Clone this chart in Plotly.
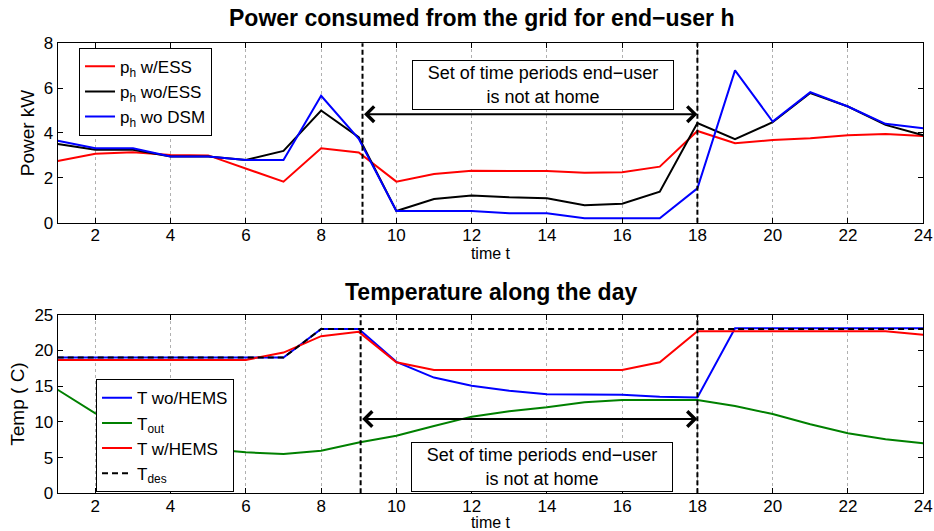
import plotly.graph_objects as go

# Time periods (hours of the day)
t = list(range(1, 25))

# Power drawn from the grid [kW]
p_w_ess = [2.75, 3.07, 3.14, 3.02, 3.0, 2.43, 1.83, 3.32, 3.13, 1.83, 2.17, 2.32,
           2.32, 2.30, 2.23, 2.25, 2.50, 4.09, 3.54, 3.69, 3.77, 3.90, 3.95, 3.87]
p_wo_ess = [3.51, 3.25, 3.25, 2.95, 2.95, 2.80, 3.20, 5.00, 3.81, 0.52, 1.06, 1.21,
            1.13, 1.09, 0.78, 0.85, 1.38, 4.44, 3.72, 4.48, 5.78, 5.18, 4.36, 3.90]
p_wo_dsm = [3.65, 3.32, 3.32, 2.95, 2.95, 2.80, 2.80, 5.66, 3.74, 0.52, 0.52, 0.52,
            0.42, 0.42, 0.20, 0.20, 0.20, 1.53, 6.79, 4.51, 5.82, 5.18, 4.41, 4.21]

# Indoor / outdoor temperatures [C]
T_wo_hems = [19.0, 19.0, 19.0, 19.0, 19.0, 19.0, 19.0, 23.0, 23.0, 18.4, 16.2, 15.07,
             14.37, 13.86, 13.86, 13.8, 13.53, 13.4, 23.1, 23.1, 23.1, 23.1, 23.1, 23.1]
T_out = [14.5, 11.2, 8.8, 7.2, 6.2, 5.74, 5.5, 5.97, 7.1, 8.07, 9.43, 10.73,
         11.5, 12.04, 12.74, 13.07, 13.07, 13.07, 12.23, 11.1, 9.66, 8.4, 7.56, 7.0]
T_w_hems = [18.67, 18.67, 18.67, 18.67, 18.67, 18.67, 19.7, 22.0, 22.6, 18.35, 17.27, 17.27,
            17.27, 17.27, 17.27, 17.27, 18.35, 22.7, 22.7, 22.7, 22.6, 22.7, 22.7, 22.2]
T_des = [19, 19, 19, 19, 19, 19, 19, 23, 23, 23, 23, 23,
         23, 23, 23, 23, 23, 23, 23, 23, 23, 23, 23, 23]

# Away-from-home window and arrow heights
away_start_top, away_start_bot, away_end = 9.1, 9.05, 18
arrow_y_power, arrow_y_temp = 4.84, 10.4
note_text = "Set of time periods end\u2212user<br>is not at home"

FONT = "Liberation Sans, Arial, Helvetica, sans-serif"
RED, BLACK, BLUE, GREEN = "#ff0000", "#000000", "#0000ff", "#008000"

fig = go.Figure()

# --- Power subplot ---
fig.add_trace(go.Scatter(x=t, y=p_w_ess, mode="lines", name="p<sub>h</sub> w/ESS",
                         line=dict(color=RED, width=2), xaxis="x", yaxis="y", legend="legend"))
fig.add_trace(go.Scatter(x=t, y=p_wo_ess, mode="lines", name="p<sub>h</sub> wo/ESS",
                         line=dict(color=BLACK, width=2), xaxis="x", yaxis="y", legend="legend"))
fig.add_trace(go.Scatter(x=t, y=p_wo_dsm, mode="lines", name="p<sub>h</sub> wo DSM",
                         line=dict(color=BLUE, width=2), xaxis="x", yaxis="y", legend="legend"))

# --- Temperature subplot ---
fig.add_trace(go.Scatter(x=t, y=T_wo_hems, mode="lines", name="T wo/HEMS",
                         line=dict(color=BLUE, width=2), xaxis="x2", yaxis="y2", legend="legend2"))
fig.add_trace(go.Scatter(x=t, y=T_out, mode="lines", name="T<sub>out</sub>",
                         line=dict(color=GREEN, width=2), xaxis="x2", yaxis="y2", legend="legend2"))
fig.add_trace(go.Scatter(x=t, y=T_w_hems, mode="lines", name="T w/HEMS",
                         line=dict(color=RED, width=2), xaxis="x2", yaxis="y2", legend="legend2"))
fig.add_trace(go.Scatter(x=t, y=T_des, mode="lines", name="T<sub>des</sub>",
                         line=dict(color=BLACK, width=2, dash="6px,4px"),
                         xaxis="x2", yaxis="y2", legend="legend2"))

TICK_FONT = dict(size=17, color="black", family=FONT)
axis_common = dict(
    range=[1, 24], dtick=2, tick0=0, ticks="inside", ticklen=5, tickcolor="black",
    showline=True, linecolor="black", linewidth=1, mirror="allticks",
    showgrid=True, gridcolor="#b0b0b0", griddash="dot", gridwidth=1,
    zeroline=False, automargin=False, tickfont=TICK_FONT, ticklabelstandoff=-3,
)
yaxis_common = dict(
    ticks="inside", ticklen=5, tickcolor="black",
    showline=True, linecolor="black", linewidth=1, mirror="allticks",
    showgrid=False, zeroline=False, automargin=False, tickfont=TICK_FONT,
)

legend_common = dict(xanchor="left", yanchor="top", bgcolor="white", bordercolor="black",
                     borderwidth=1, font=dict(size=17, family=FONT, color="black"),
                     tracegroupgap=0)

fig.update_layout(
    width=934, height=531,
    margin=dict(l=0, r=0, t=0, b=0),
    paper_bgcolor="white", plot_bgcolor="white",
    font=dict(family=FONT, color="black"),
    xaxis=dict(axis_common, domain=[0.0618, 0.9884], anchor="y",
               title=dict(text="time t", font=dict(size=16), standoff=3)),
    yaxis=dict(yaxis_common, domain=[0.5806, 0.9185], range=[0, 8], dtick=2, anchor="x",
               title=dict(text="Power kW", font=dict(size=19), standoff=4)),
    xaxis2=dict(axis_common, domain=[0.0618, 0.9884], anchor="y2",
                title=dict(text="time t", font=dict(size=16), standoff=3)),
    yaxis2=dict(yaxis_common, domain=[0.0710, 0.4073], range=[0, 25], dtick=5, anchor="x2",
                title=dict(text="Temp ( C)", font=dict(size=19), standoff=4)),
    legend=dict(legend_common, x=0.0846, y=0.910),
    legend2=dict(legend_common, x=0.1028, y=0.2857),
    showlegend=True,
)

# Vertical dashed markers delimiting the away period
for xv, xr, yr in [(away_start_top, "x", "y domain"), (away_end, "x", "y domain"),
                   (away_start_bot, "x2", "y2 domain"), (away_end, "x2", "y2 domain")]:
    fig.add_shape(type="line", xref=xr, yref=yr, x0=xv, x1=xv, y0=0, y1=1,
                  line=dict(color="black", width=2, dash="5px,3px"))

arrow_style = dict(text="", showarrow=True, arrowside="end+start", arrowhead=4,
                   startarrowhead=4, arrowsize=1.5, startarrowsize=1.5, arrowwidth=2,
                   arrowcolor="black", standoff=0, startstandoff=0)
box_style = dict(showarrow=False, xanchor="center", yanchor="middle", width=256, height=44,
                 align="center", bgcolor="white", bordercolor="black", borderwidth=1,
                 borderpad=2, font=dict(size=18, family=FONT, color="black"))

annotations = [
    dict(text="<b>Power consumed from the grid for end\u2212user h</b>", xref="paper", yref="paper",
         x=481 / 934, y=1 - 18 / 531, xanchor="center", yanchor="middle", showarrow=False,
         font=dict(size=23, family=FONT)),
    dict(text="<b>Temperature along the day</b>", xref="paper", yref="paper",
         x=491 / 934, y=1 - 292 / 531, xanchor="center", yanchor="middle", showarrow=False,
         font=dict(size=23, family=FONT)),
    # double-headed arrows across the away period
    dict(arrow_style, x=away_end, y=arrow_y_power, ax=away_start_top, ay=arrow_y_power,
         xref="x", yref="y", axref="x", ayref="y"),
    dict(arrow_style, x=away_end, y=arrow_y_temp, ax=away_start_bot, ay=arrow_y_temp,
         xref="x2", yref="y2", axref="x2", ayref="y2"),
    # text boxes
    dict(box_style, text=note_text, x=13.89, y=6.13, xref="x", yref="y"),
    dict(box_style, text=note_text, x=13.86, y=3.73, xref="x2", yref="y2"),
]
fig.update_layout(annotations=annotations)

fig.write_html("out.html")
